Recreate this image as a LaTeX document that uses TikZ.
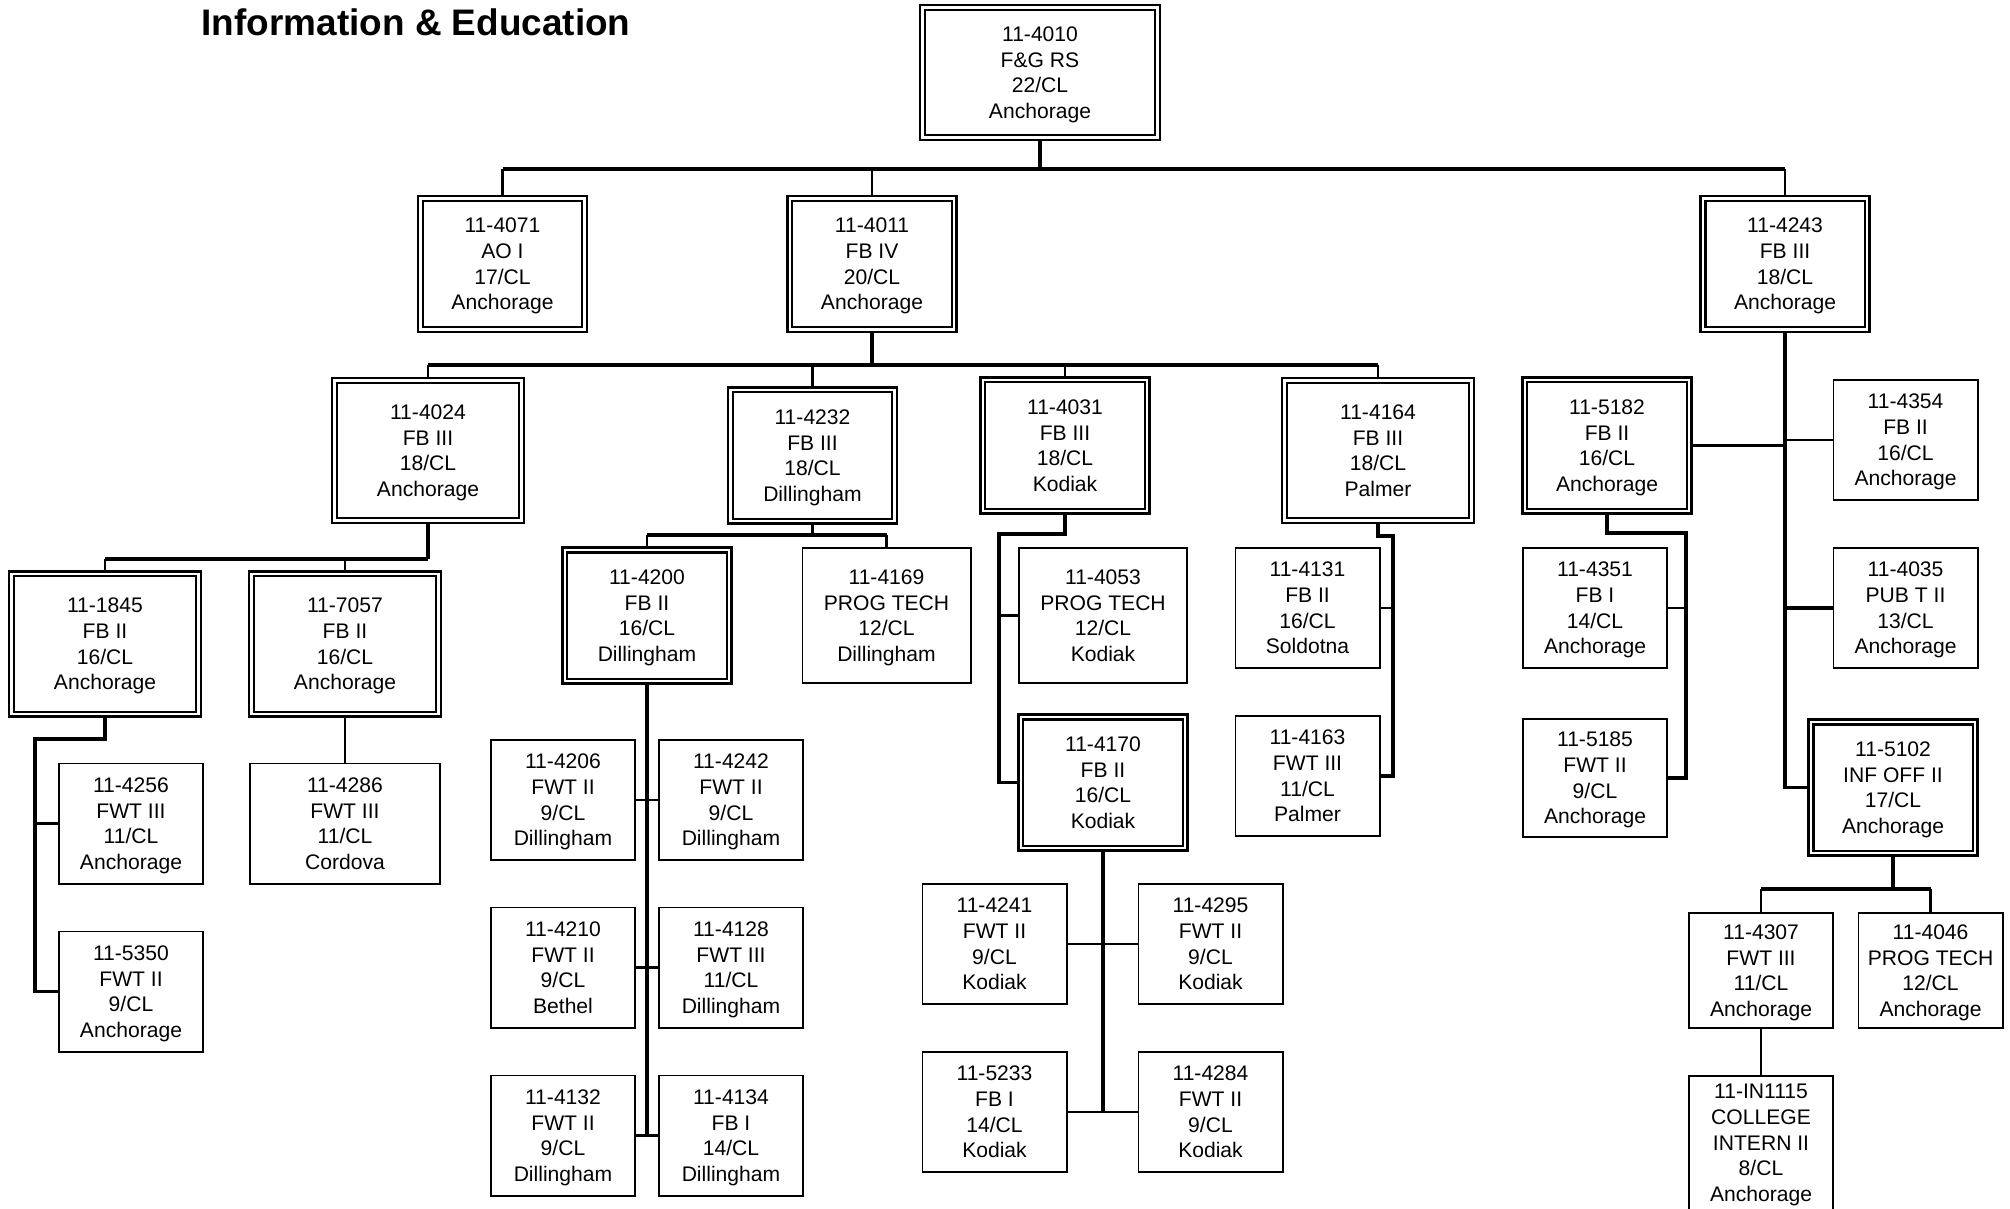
\documentclass[tikz,border=0pt]{standalone}
\usepackage{fontspec}
\setmainfont{Liberation Sans}
\usepackage{tikz}
\newcommand{\boxfont}{\fontsize{6}{7.3}\selectfont}
\tikzset{
  supbox/.style={draw, double, double distance=0.8pt, line width=0.6pt, align=center,
    font=\boxfont, inner sep=1pt, text depth=0pt, minimum width=1.64cm, minimum height=1.31cm},
  posbox/.style={draw, line width=0.55pt, align=center, font=\boxfont, inner sep=1pt,
    text depth=0pt, minimum width=1.44cm, minimum height=1.20cm},
  topbox/.style={minimum width=2.35cm, minimum height=1.30cm},
  widebox/.style={minimum width=1.87cm, minimum height=1.40cm},
  bigbox/.style={minimum width=1.68cm, minimum height=1.35cm},
  trunk/.style={line width=1.1pt},
  link/.style={line width=0.7pt}
}
\newcommand{\supbox}[3]{node[supbox,#1](#2) {#3}}
\newcommand{\posbox}[3]{node[posbox,#1](#2) {#3}}

\begin{document}
\begin{tikzpicture}[x=0.01cm, y=-0.01cm]
\useasboundingbox (0,0) rectangle (2010,1208);
\clip (0,0) rectangle (2010,1208);
\node[anchor=west, inner sep=0pt, font=\fontsize{10.5}{12}\selectfont\bfseries] (title) at (201,22) {Information \& Education};
% top levels
\draw (1040,72.5) \supbox{topbox}{n4010}{11-4010\\F\&G RS\\22/CL\\Anchorage};
\draw (502.5,264) \supbox{}{n4071}{11-4071\\AO I\\17/CL\\Anchorage};
\draw (872,264) \supbox{}{n4011}{11-4011\\FB IV\\20/CL\\Anchorage};
\draw (1785,264) \supbox{}{n4243}{11-4243\\FB III\\18/CL\\Anchorage};
\draw (428,450.5) \supbox{widebox}{n4024}{11-4024\\FB III\\18/CL\\Anchorage};
\draw (812.5,455.5) \supbox{}{n4232}{11-4232\\FB III\\18/CL\\Dillingham};
\draw (1065,445.5) \supbox{}{n4031}{11-4031\\FB III\\18/CL\\Kodiak};
\draw (1378,450.5) \supbox{widebox}{n4164}{11-4164\\FB III\\18/CL\\Palmer};
\draw (1607,445.5) \supbox{}{n5182}{11-5182\\FB II\\16/CL\\Anchorage};
\draw (1905.5,440) \posbox{}{n4354}{11-4354\\FB II\\16/CL\\Anchorage};
% Anchorage group
\draw (105,644) \supbox{widebox}{n1845}{11-1845\\FB II\\16/CL\\Anchorage};
\draw (345,644) \supbox{widebox}{n7057}{11-7057\\FB II\\16/CL\\Anchorage};
\draw (131,823.5) \posbox{}{n4256}{11-4256\\FWT III\\11/CL\\Anchorage};
\draw (131,991.5) \posbox{}{n5350}{11-5350\\FWT II\\9/CL\\Anchorage};
\draw (345,823.5) \posbox{minimum width=1.90cm}{n4286}{11-4286\\FWT III\\11/CL\\Cordova};
% Dillingham group
\draw (647,615.5) \supbox{}{n4200}{11-4200\\FB II\\16/CL\\Dillingham};
\draw (886.5,615.5) \posbox{bigbox}{n4169}{11-4169\\PROG TECH\\12/CL\\Dillingham};
\draw (563,800) \posbox{}{n4206}{11-4206\\FWT II\\9/CL\\Dillingham};
\draw (731,800) \posbox{}{n4242}{11-4242\\FWT II\\9/CL\\Dillingham};
\draw (563,967.5) \posbox{}{n4210}{11-4210\\FWT II\\9/CL\\Bethel};
\draw (731,967.5) \posbox{}{n4128}{11-4128\\FWT III\\11/CL\\Dillingham};
\draw (563,1135.5) \posbox{}{n4132}{11-4132\\FWT II\\9/CL\\Dillingham};
\draw (731,1135.5) \posbox{}{n4134}{11-4134\\FB I\\14/CL\\Dillingham};
% Kodiak group
\draw (1103,615.5) \posbox{bigbox}{n4053}{11-4053\\PROG TECH\\12/CL\\Kodiak};
\draw (1103,782.5) \supbox{}{n4170}{11-4170\\FB II\\16/CL\\Kodiak};
\draw (994.5,944) \posbox{}{n4241}{11-4241\\FWT II\\9/CL\\Kodiak};
\draw (1210.5,944) \posbox{}{n4295}{11-4295\\FWT II\\9/CL\\Kodiak};
\draw (994.5,1112) \posbox{}{n5233}{11-5233\\FB I\\14/CL\\Kodiak};
\draw (1210.5,1112) \posbox{}{n4284}{11-4284\\FWT II\\9/CL\\Kodiak};
% Palmer group
\draw (1307.5,608) \posbox{}{n4131}{11-4131\\FB II\\16/CL\\Soldotna};
\draw (1307.5,776) \posbox{}{n4163}{11-4163\\FWT III\\11/CL\\Palmer};
% right column
\draw (1595,608) \posbox{}{n4351}{11-4351\\FB I\\14/CL\\Anchorage};
\draw (1595,778) \posbox{minimum height=1.18cm}{n5185}{11-5185\\FWT II\\9/CL\\Anchorage};
\draw (1905.5,608) \posbox{}{n4035}{11-4035\\PUB T II\\13/CL\\Anchorage};
\draw (1893,787.5) \supbox{}{n5102}{11-5102\\INF OFF II\\17/CL\\Anchorage};
\draw (1761,970.5) \posbox{minimum height=1.15cm}{n4307}{11-4307\\FWT III\\11/CL\\Anchorage};
\draw (1930.5,970.5) \posbox{minimum height=1.15cm}{n4046}{11-4046\\PROG TECH\\12/CL\\Anchorage};
\draw (1761,1143) \posbox{minimum height=1.34cm}{nIN1115}{11-IN1115\\COLLEGE\\INTERN II\\8/CL\\Anchorage};
% bus points
\coordinate (b1) at (1040,169);
\coordinate (b2) at (872,365);
\coordinate (b3) at (428,559);
\coordinate (b4) at (812.5,535);
\coordinate (b5102) at (1893,889);
\coordinate (c1845) at (35,739);
\coordinate (c4031) at (999,534);
\coordinate (c4164) at (1393,536);
\coordinate (c5182) at (1686,533);
% connectors
\draw[trunk] (n4010) -- (b1);
\draw[trunk] (b1 -| n4071) -- (b1 -| n4243);
\draw[link] (b1 -| n4071) -- (n4071);
\draw[link] (b1 -| n4011) -- (n4011);
\draw[link] (b1 -| n4243) -- (n4243);
\draw[trunk] (n4011) -- (b2);
\draw[trunk] (b2 -| n4024) -- (b2 -| n4164);
\draw[link] (b2 -| n4024) -- (n4024);
\draw[link] (b2 -| n4232) -- (n4232);
\draw[link] (b2 -| n4031) -- (n4031);
\draw[link] (b2 -| n4164) -- (n4164);
\draw[trunk] (n4024) -- (b3);
\draw[trunk] (b3 -| n1845) -- (b3);
\draw[link] (b3 -| n1845) -- (n1845);
\draw[link] (b3 -| n7057) -- (n7057);
\draw[trunk] (n1845) |- (c1845) |- (n5350.west);
\draw[link] (c1845 |- n4256) -- (n4256);
\draw[link] (n7057) -- (n4286);
\draw[trunk] (n4232) -- (b4);
\draw[trunk] (b4 -| n4200) -- (b4 -| n4169);
\draw[link] (b4 -| n4200) -- (n4200);
\draw[link] (b4 -| n4169) -- (n4169);
\draw[trunk] (n4200) -- (n4200 |- n4132);
\draw[link] (n4206) -- (n4242);
\draw[link] (n4210) -- (n4128);
\draw[link] (n4132) -- (n4134);
\draw[trunk] (n4031) |- (c4031) |- (n4170.west);
\draw[link] (c4031 |- n4053) -- (n4053);
\draw[trunk] (n4170) -- (n4170 |- n5233);
\draw[link] (n4241) -- (n4295);
\draw[link] (n5233) -- (n4284);
\draw[trunk] (n4164) |- (c4164) |- (n4163.east);
\draw[link] (c4164 |- n4131) -- (n4131);
\draw[trunk] (n4243) |- (n5102.west);
\draw[trunk] (n5182) -- (n5182 -| n4243);
\draw[link] (n4354) -- (n4354 -| n4243);
\draw[trunk] (n4035) -- (n4035 -| n4243);
\draw[trunk] (n5182) |- (c5182) |- (n5185.east);
\draw[link] (c5182 |- n4351) -- (n4351);
\draw[trunk] (n5102) -- (b5102);
\draw[trunk] (b5102 -| n4307) -- (b5102 -| n4046);
\draw[link] (b5102 -| n4307) -- (n4307);
\draw[link] (b5102 -| n4046) -- (n4046);
\draw[link] (n4307) -- (nIN1115);
\end{tikzpicture}
\end{document}
